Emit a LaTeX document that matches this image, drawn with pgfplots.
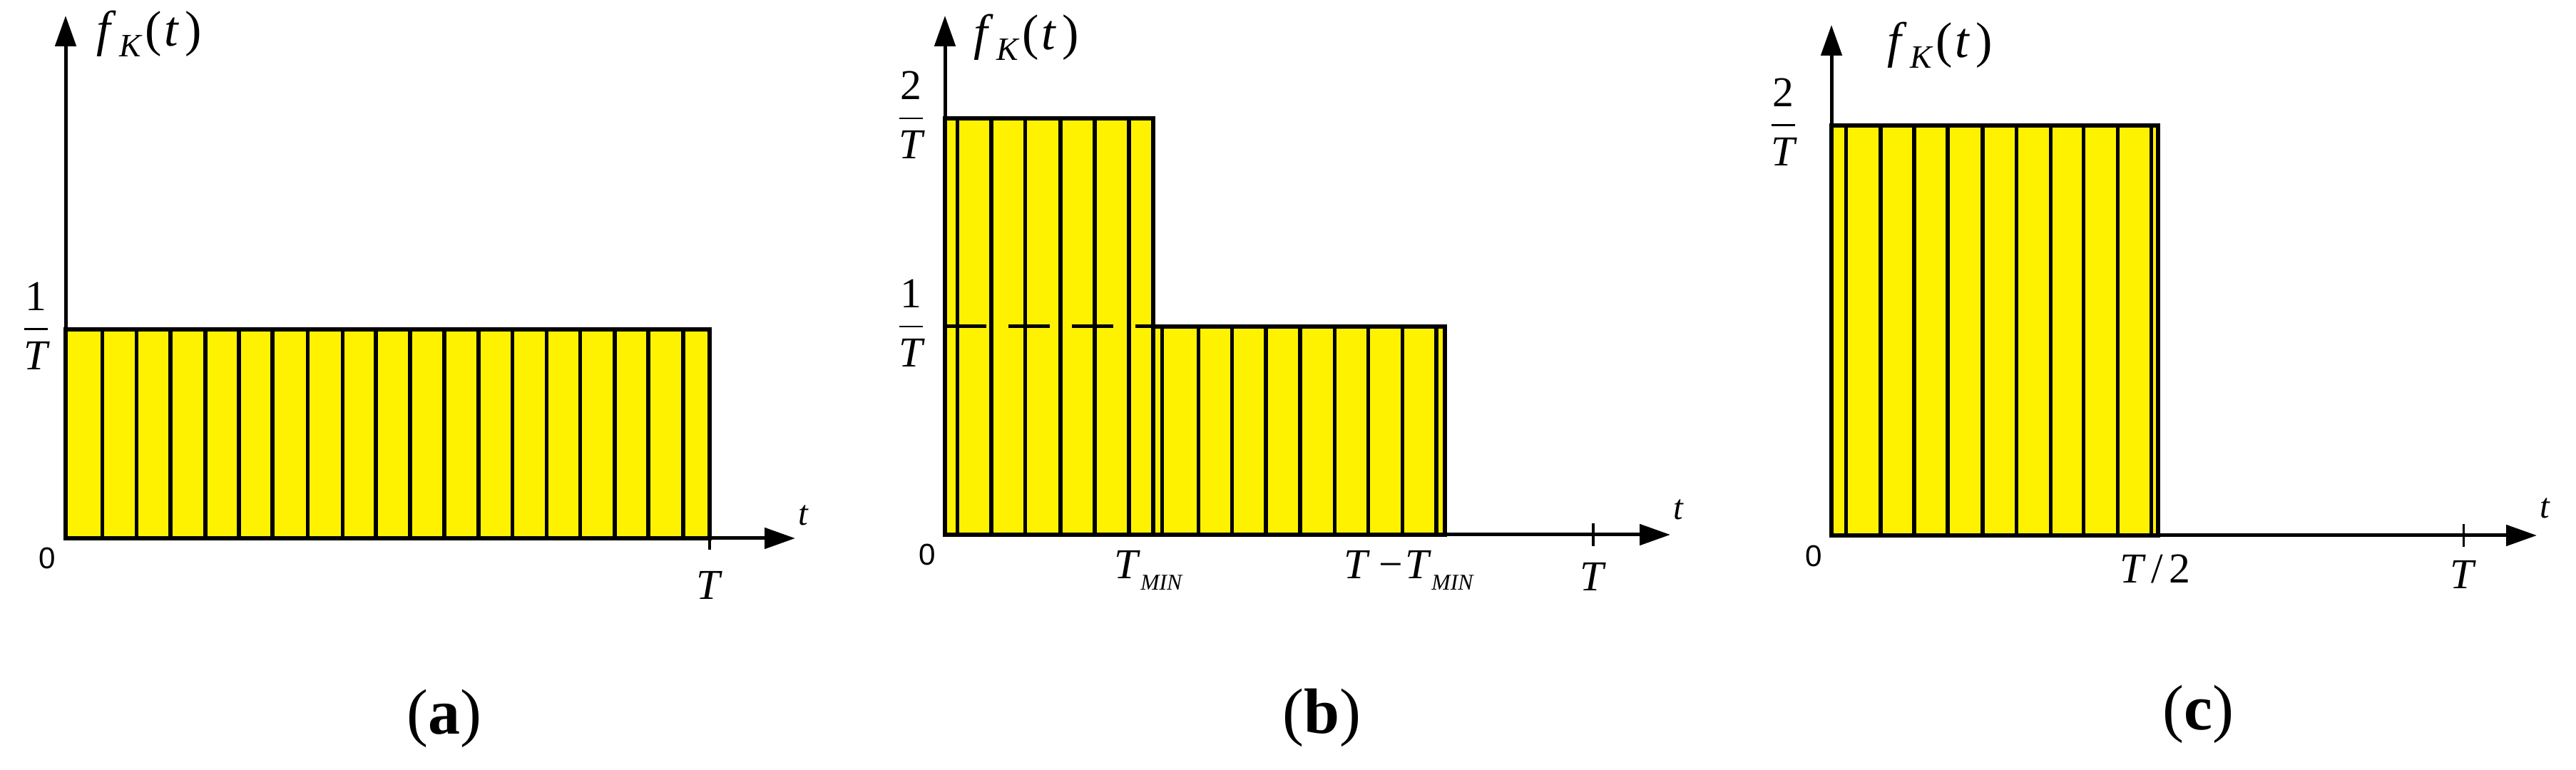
\documentclass[border=0pt]{standalone}
\usepackage{amsmath}
\usepackage{fontspec}
\setmainfont{Liberation Serif}
\newfontfamily\sansf{Liberation Sans}
\usepackage{pgfplots}
\pgfplotsset{compat=1.18}
\usetikzlibrary{arrows.meta}

% f_K(t) label, T_MIN label
\newcommand{\fK}{{\fontsize{20}{23}\selectfont\itshape f\hspace{1.2mm}\raisebox{-1.5mm}{\fontsize{13}{15}\selectfont K}\hspace{0.6mm}\upshape(\hspace{0.3mm}\itshape t\hspace{1.0mm}\upshape)}}
\newcommand{\Tmin}{\textit{T}\raisebox{-1.6mm}{\fontsize{9}{10}\selectfont\itshape MIN}}

\tikzset{
  lab/.style={font=\fontsize{17}{20}\selectfont, inner sep=0pt},
  zerolab/.style={font=\sansf\fontsize{12}{14}\selectfont, inner sep=0pt},
  capt/.style={font=\fontsize{25.6}{30}\selectfont, inner sep=0pt},
}
\pgfplotsset{
  panel/.style={
    scale only axis, anchor=south west,
    axis lines=left, axis on top, clip=false,
    axis line style={line width=0.5mm, -{Triangle[length=4.3mm,width=2.9mm]}},
    xmin=0, ymin=0,
    xtick={1}, xticklabels={\textit{T}}, ytick=\empty,
    xticklabel style={lab, anchor=base},
    xtick align=center, major tick length=3.2mm,
    tick style={black, line width=0.35mm},
  },
  box/.style={fill=yellow, draw=black, line width=0.55mm},
  strips/.style={ycomb, black, line width=0.55mm},
}

\begin{document}
\begin{tikzpicture}
\path[use as bounding box] (0,0) rectangle (36.12cm,10.8cm);

% (a) uniform
\begin{axis}[panel, at={(0.92cm,3.25cm)}, width=10.23cm, height=7.33cm,
  xmax=1.133, ymax=2.50, xticklabel style={yshift=-7.0mm}]
  \addplot[box] coordinates {(0,0) (0,1) (1,1) (1,0)} -- cycle;
  \addplot[strips] coordinates {
    (0.057,1) (0.110,1) (0.163,1) (0.217,1) (0.269,1) (0.321,1)
    (0.376,1) (0.430,1) (0.482,1) (0.535,1) (0.588,1) (0.641,1)
    (0.694,1) (0.747,1) (0.799,1) (0.853,1) (0.905,1) (0.959,1)};
  \node[lab, anchor=base west, xshift=4.3mm, yshift=69mm] at (axis cs:0,0) {\fK};
  \node[lab, anchor=base west, xshift=0.4mm, yshift=1.8mm, font=\fontsize{14}{16}\selectfont] at (axis cs:1.133,0) {\textit{t}};
  \node[zerolab] at (axis cs:0,0) [xshift=-2.6mm, yshift=-2.8mm] {0};
  \node[lab, anchor=base east] at (axis cs:0,1) [xshift=-2.0mm, yshift=-1.5mm] {$\dfrac{\text{1}}{\textit{T}}$};
\end{axis}

% (b) two levels
\begin{axis}[panel, at={(13.25cm,3.30cm)}, width=10.17cm, height=7.28cm,
  xmax=1.119, ymax=2.493, xticklabel style={yshift=-6.3mm}]
  \addplot[box] coordinates {(0,0) (0,2) (0.321,2) (0.321,0)} -- cycle;
  \addplot[box] coordinates {(0.321,0) (0.321,1) (0.771,1) (0.771,0)} -- cycle;
  \addplot[strips] coordinates {
    (0.019,2) (0.0715,2) (0.124,2) (0.178,2) (0.231,2) (0.284,2)};
  \addplot[strips] coordinates {
    (0.335,1) (0.391,1) (0.443,1) (0.495,1) (0.548,1) (0.601,1)
    (0.653,1) (0.706,1) (0.758,1)};
  \addplot[black, line width=0.5mm, dash pattern=on 5.8mm off 3.1mm] coordinates {(0,1) (0.321,1)};
  \node[lab, anchor=base west, xshift=4.0mm, yshift=68mm] at (axis cs:0,0) {\fK};
  \node[lab, anchor=base west, xshift=0.4mm, yshift=2.1mm, font=\fontsize{14}{16}\selectfont] at (axis cs:1.119,0) {\textit{t}};
  \node[zerolab] at (axis cs:0,0) [xshift=-2.5mm, yshift=-2.8mm] {0};
  \node[lab, anchor=base] at (axis cs:0.3135,0) [yshift=-6.2mm] {\Tmin};
  \node[lab, anchor=base] at (axis cs:0.715,0) [yshift=-6.2mm] {\textit{T}\hspace{1.2mm}−\hspace{0.4mm}\Tmin};
  \node[lab, anchor=base east] at (axis cs:0,1) [xshift=-2.6mm, yshift=-1.5mm] {$\dfrac{\text{1}}{\textit{T}}$};
  \node[lab, anchor=base east] at (axis cs:0,2) [xshift=-2.6mm, yshift=-1.5mm] {$\dfrac{\text{2}}{\textit{T}}$};
\end{axis}

% (c) half interval
\begin{axis}[panel, at={(25.68cm,3.29cm)}, width=9.89cm, height=7.16cm,
  xmax=1.116, ymax=2.49, xticklabel style={yshift=-5.9mm}]
  \addplot[box] coordinates {(0,0) (0,2) (0.517,2) (0.517,0)} -- cycle;
  \addplot[strips] coordinates {
    (0.023,2) (0.078,2) (0.131,2) (0.184,2) (0.239,2) (0.293,2)
    (0.347,2) (0.399,2) (0.453,2) (0.506,2)};
  \node[lab, anchor=base west, xshift=7.8mm, yshift=67mm] at (axis cs:0,0) {\fK};
  \node[lab, anchor=base west, xshift=0.4mm, yshift=2.4mm, font=\fontsize{14}{16}\selectfont] at (axis cs:1.116,0) {\textit{t}};
  \node[zerolab] at (axis cs:0,0) [xshift=-2.5mm, yshift=-2.9mm] {0};
  \node[lab, anchor=base] at (axis cs:0.512,0) [yshift=-6.7mm] {\textit{T}\hspace{0.8mm}/\hspace{0.8mm}2};
  \node[lab, anchor=base east] at (axis cs:0,2) [xshift=-4.6mm, yshift=-1.5mm] {$\dfrac{\text{2}}{\textit{T}}$};
\end{axis}

\node[capt] at (6.23cm,0.72cm) {(\textbf{a})};
\node[capt] at (18.53cm,0.73cm) {(\textbf{b})};
\node[capt] at (30.82cm,0.78cm) {(\textbf{c})};
\end{tikzpicture}
\end{document}
